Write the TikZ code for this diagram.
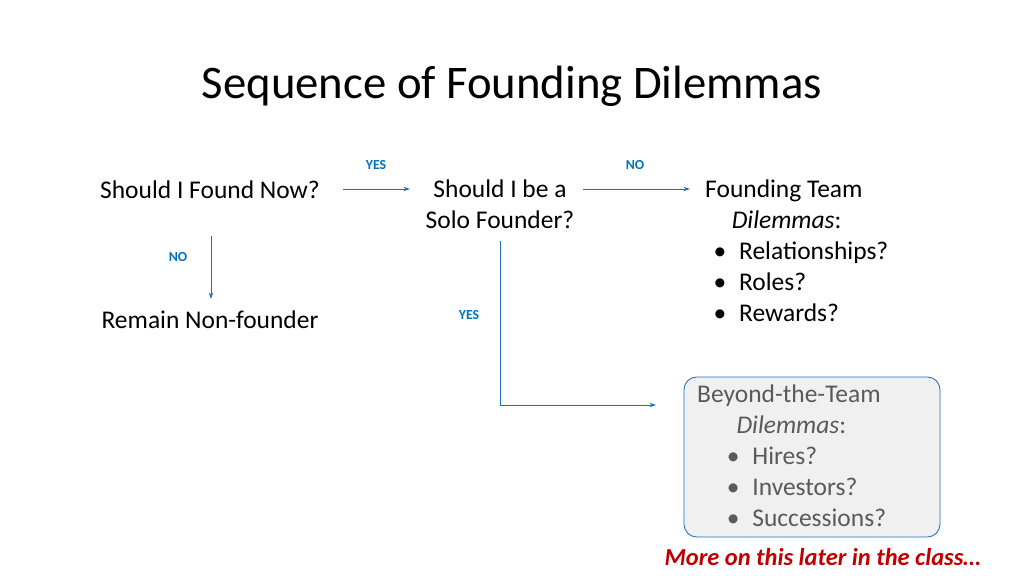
\documentclass[tikz,border=0pt]{standalone}
\usepackage{fontspec}
\setmainfont{Carlito}
\usetikzlibrary{positioning,arrows.meta}

\tikzset{
  body/.style={font=\fontsize{24}{29}\selectfont, inner sep=0pt, align=center},
  answer/.style={font=\fontsize{13}{15}\selectfont\bfseries, text=ansblue, inner sep=0pt},
  flow/.style={draw=arrowblue, line width=0.9pt, -{Stealth[length=6pt,width=4pt]}}
}
\definecolor{ansblue}{RGB}{0,112,192}
\definecolor{arrowblue}{RGB}{30,110,190}
\definecolor{boxfill}{RGB}{240,240,240}
\definecolor{laterred}{RGB}{192,0,0}
\definecolor{greytext}{RGB}{90,90,90}
\newcommand{\bulletgap}{\textbullet\hspace*{12pt}}

\begin{document}
\begin{tikzpicture}[x=0.0331cm, y=-0.0331cm]
  \useasboundingbox (0,0) rectangle (1024,576);

  \node[font=\fontsize{44}{50}\selectfont, inner sep=0pt] (title) at (512,86) {Sequence of Founding Dilemmas};

  \node[body] (now) at (210,190) {Should I Found Now?};
  \node[body, anchor=north] (solo) at (500,180) {Should I be a\\Solo Founder?};
  \node[body, anchor=north west, align=left] (team) at (705,180)
    {Founding Team\\\hspace*{25pt}\textit{Dilemmas}:\\
     \hspace*{8pt}\bulletgap Relationships?\\\hspace*{8pt}\bulletgap Roles?\\\hspace*{8pt}\bulletgap Rewards?};
  \node[body] (remain) at (210,320) {Remain Non-founder};

  \draw[draw=arrowblue, fill=boxfill, rounded corners=12pt, line width=0.8pt] (684,377) rectangle (940,537);
  \node[body, anchor=north west, align=left, text=greytext] (beyond) at (697,385)
    {Beyond-the-Team\\\hspace*{37pt}\textit{Dilemmas}:\\
     \hspace*{28pt}\bulletgap Hires?\\\hspace*{28pt}\bulletgap Investors?\\\hspace*{28pt}\bulletgap Successions?};

  \coordinate (a1) at (343,189);
  \coordinate (a2) at (410,189);
  \coordinate (b1) at (583,189);
  \coordinate (b2) at (690,189);
  \coordinate (c1) at (211,236);
  \coordinate (c2) at (211,299);
  \coordinate (d1) at (500,241);
  \coordinate (d2) at (656,405);
  \draw[flow] (a1) -- (a2);
  \draw[flow] (b1) -- (b2);
  \draw[flow] (c1) -- (c2);
  \draw[flow] (d1) |- (d2);

  \node[answer] (yes1) at (376,165) {YES};
  \node[answer] (no1) at (635,165) {NO};
  \node[answer] (no2) at (178,257) {NO};
  \node[answer] (yes2) at (469,315) {YES};

  \node[font=\fontsize{23}{26}\selectfont\bfseries\itshape, text=laterred, inner sep=0pt, anchor=east] (later) at (981,557)
    {More on this later in the class\ldots};
\end{tikzpicture}
\end{document}
